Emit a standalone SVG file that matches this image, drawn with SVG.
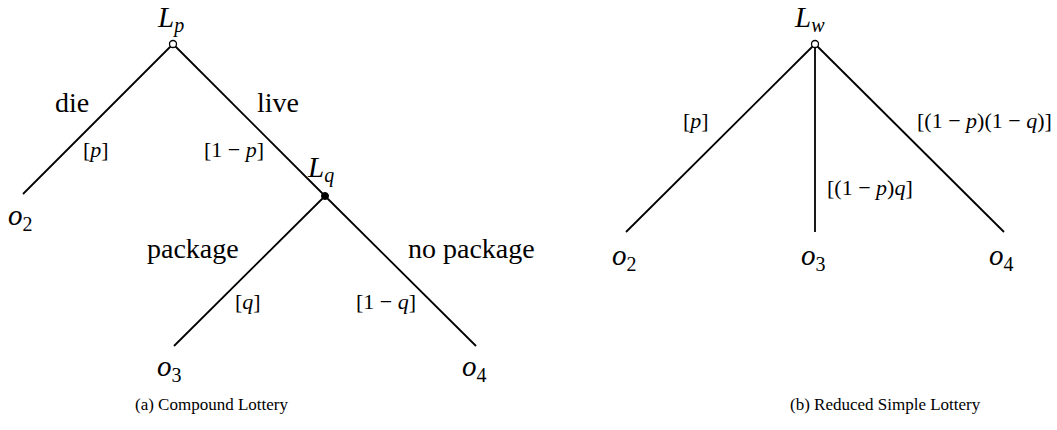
<svg xmlns="http://www.w3.org/2000/svg" width="1057" height="430" viewBox="0 0 1057 430" font-family="'Liberation Serif','Times New Roman',serif">
<style>
text{font-family:"Liberation Serif","Times New Roman",serif;fill:#000}
.lbl{font-size:28px}
.pr{font-size:22px}
.m{font-style:italic}
.big{font-size:29px}
.sub{font-size:20px}
.cap{font-size:17px}
.edge{stroke:#000;stroke-width:1.8;fill:none}
.open{fill:#fff;stroke:#000;stroke-width:1.3}
.fill{fill:#000;stroke:#000;stroke-width:1}
</style>
<rect width="1057" height="430" fill="#fff"/>
<g id="connectors">
<line class="edge" x1="173" y1="44" x2="23" y2="194"/>
<line class="edge" x1="173" y1="44" x2="325" y2="196"/>
<line class="edge" x1="325" y1="196" x2="174" y2="346"/>
<line class="edge" x1="325" y1="196" x2="476" y2="346"/>
<line class="edge" x1="815" y1="44" x2="626" y2="232"/>
<line class="edge" x1="815" y1="44" x2="815" y2="232"/>
<line class="edge" x1="815" y1="44" x2="1004" y2="232"/>
</g>
<g id="edge-labels">
<text class="lbl" x="55" y="112">die</text>
<text class="lbl" x="257" y="112">live</text>
<text class="pr" x="83" y="157">[<tspan class="m">p</tspan>]</text>
<text class="pr" x="204" y="157">[1 − <tspan class="m">p</tspan>]</text>
<text class="lbl" x="147" y="258">package</text>
<text class="lbl" x="408" y="258">no package</text>
<text class="pr" x="235" y="309">[<tspan class="m">q</tspan>]</text>
<text class="pr" x="356" y="309">[1 − <tspan class="m">q</tspan>]</text>
<text class="pr" x="683" y="128">[<tspan class="m">p</tspan>]</text>
<text class="pr" x="827" y="195">[(1 − <tspan class="m">p</tspan>)<tspan class="m">q</tspan>]</text>
<text class="pr" x="917" y="128">[(1 − <tspan class="m">p</tspan>)(1 − <tspan class="m">q</tspan>)]</text>
</g>
<g id="node-Lp">
<circle class="open" cx="173" cy="44" r="3.5"/>
<text x="158" y="27"><tspan class="m big">L</tspan><tspan class="m sub" dy="5">p</tspan></text>
</g>
<g id="node-Lq">
<circle class="fill" cx="325" cy="196" r="3.5"/>
<text x="308" y="177"><tspan class="m big">L</tspan><tspan class="m sub" dy="5">q</tspan></text>
</g>
<g id="node-o2a">
<text x="8" y="225"><tspan class="m big">o</tspan><tspan class="sub" dy="6">2</tspan></text>
</g>
<g id="node-o3a">
<text x="157" y="376"><tspan class="m big">o</tspan><tspan class="sub" dy="6">3</tspan></text>
</g>
<g id="node-o4a">
<text x="462" y="376"><tspan class="m big">o</tspan><tspan class="sub" dy="6">4</tspan></text>
</g>
<g id="node-Lw">
<circle class="open" cx="815" cy="44" r="3.5"/>
<text x="795" y="27"><tspan class="m big">L</tspan><tspan class="m sub" dy="5">w</tspan></text>
</g>
<g id="node-o2b">
<text x="612" y="265"><tspan class="m big">o</tspan><tspan class="sub" dy="6">2</tspan></text>
</g>
<g id="node-o3b">
<text x="801" y="265"><tspan class="m big">o</tspan><tspan class="sub" dy="6">3</tspan></text>
</g>
<g id="node-o4b">
<text x="989" y="265"><tspan class="m big">o</tspan><tspan class="sub" dy="6">4</tspan></text>
</g>
<g id="captions">
<text class="cap" x="135" y="410">(a) Compound Lottery</text>
<text class="cap" x="790" y="410">(b) Reduced Simple Lottery</text>
</g>
</svg>
